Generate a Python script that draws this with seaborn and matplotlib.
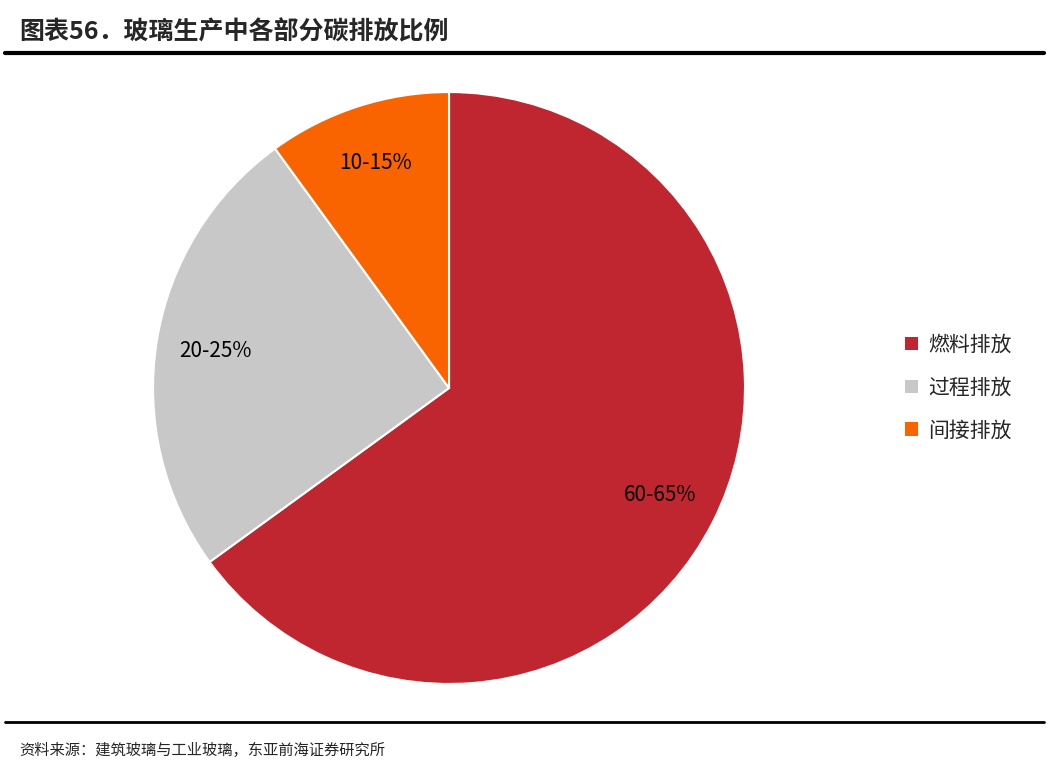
import matplotlib
matplotlib.use("Agg")
import matplotlib.pyplot as plt
import seaborn as sns
from matplotlib.patches import Patch
from matplotlib.lines import Line2D

sns.set_theme(style="white")
plt.rcParams['font.family'] = ['Noto Sans CJK SC', 'DejaVu Sans']

categories = ['燃料排放', '过程排放', '间接排放']
values = [65, 25, 10]
value_labels = ['60-65%', '20-25%', '10-15%']
colors = ['#C0262F', '#C8C8C8', '#F96400']

fig = plt.figure(figsize=(10.49, 7.75), dpi=100)
ax = fig.add_axes([0.1459, 0.1174, 0.5643, 0.7639])

wedges, texts, autotexts = ax.pie(
    values, colors=colors, startangle=90, counterclock=False,
    autopct='%1.0f', pctdistance=0.8,
    wedgeprops=dict(edgecolor='white', linewidth=1.5))
for t, lab in zip(autotexts, value_labels):
    t.set_text(lab)
    t.set_fontsize(15)
    t.set_color('black')
ax.set_xlim(-1, 1)
ax.set_ylim(-1, 1)
ax.set_aspect('equal')

handles = [Patch(facecolor=c, edgecolor='none') for c in colors]
fig.legend(handles, categories, loc='center left', bbox_to_anchor=(0.845, 0.5),
           frameon=False, fontsize=15, handlelength=0.6, handleheight=0.6,
           handletextpad=0.5, labelspacing=1.0)

# title, rules and source
fig.text(0.018, 0.958, '图表56．玻璃生产中各部分碳排放比例', fontsize=18,
         fontweight='bold', va='center', ha='left')
fig.add_artist(Line2D([0.005, 0.995], [0.931, 0.931], color='black', lw=3))
fig.add_artist(Line2D([0.005, 0.995], [0.068, 0.068], color='black', lw=2))
fig.text(0.018, 0.032, '资料来源：建筑玻璃与工业玻璃，东亚前海证券研究所', fontsize=11,
         va='center', ha='left')

fig.savefig('out.png', dpi=100)
